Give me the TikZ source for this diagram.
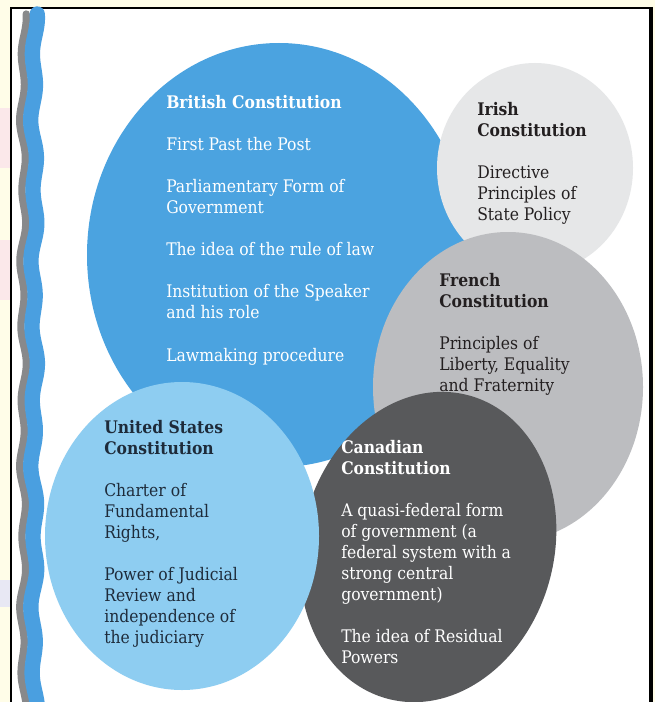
\documentclass[tikz,border=0pt]{standalone}
\usepackage{fontspec}
\setmainfont{DejaVu Serif Condensed}
\usetikzlibrary{shapes.geometric}

\definecolor{pageyellow}{HTML}{FFFDE8}
\definecolor{marginpink}{HTML}{FBE8EA}
\definecolor{marginlilac}{HTML}{E8E8F4}
\definecolor{britblue}{HTML}{4BA3E0}
\definecolor{usblue}{HTML}{8ECDF1}
\definecolor{irishgray}{HTML}{E6E7E8}
\definecolor{frenchgray}{HTML}{BCBDC0}
\definecolor{canadagray}{HTML}{58595B}
\definecolor{stripegray}{HTML}{88898B}
\definecolor{stripeblue}{HTML}{4A9FE0}
\definecolor{inkdark}{HTML}{231F20}
\definecolor{inknavy}{HTML}{1E2B3A}

\newcommand\factlist[1]{\begin{tabular}[t]{@{}l@{}}#1\end{tabular}}

\tikzset{
  bubble/.style={ellipse, inner sep=0pt, draw=none},
  facts/.style={anchor=base west, inner sep=0pt,
    font=\fontsize{13}{15.75}\selectfont},
}

\begin{document}
\begin{tikzpicture}[x=0.75pt, y=-0.75pt]
  \useasboundingbox (0,0) rectangle (655,702);
  \clip (0,0) rectangle (655,702);
  % page and framed panel
  \fill[pageyellow] (0,0) rectangle (655,702);
  \fill[marginpink] (0,108) rectangle (10,168);
  \fill[marginpink] (0,240) rectangle (10,300);
  \fill[marginlilac] (0,580) rectangle (10,607);
  \fill[white] (11,8) rectangle (651,702);
  \draw[black, line width=1.4pt] (11,710) -- (11,8) -- (651,8);
  \draw[black, line width=2.6pt] (651,7) -- (651,710);

  % wavy edge stripes
  \draw[stripegray, line width=5.5pt, line cap=round]
    plot[domain=14:712, samples=260, smooth]
    ({23+2.2*sin(5.2*\x)+1.2*sin(2.1*\x+40)}, \x);
  \draw[stripeblue, line width=11.5pt, line cap=round]
    plot[domain=14:712, samples=260, smooth]
    ({34+2.2*sin(5.2*\x)+1.2*sin(2.1*\x+40)}, \x);

  % the five overlapping bubbles, back to front
  \node[bubble, fill=britblue, minimum width=288pt, minimum height=318pt]
    (brit) at (279,255) {};
  \node[bubble, fill=irishgray, minimum width=147pt, minimum height=157.5pt]
    (irish) at (535,168) {};
  \node[bubble, fill=frenchgray, minimum width=202.5pt, minimum height=232.5pt]
    (french) at (508,387) {};
  \node[bubble, fill=canadagray, minimum width=189pt, minimum height=235.5pt,
    rotate=-15] (canada) at (428,547) {};
  \node[bubble, fill=usblue, minimum width=205.5pt, minimum height=231pt]
    (usa) at (182,536) {};

  % texts
  \node[facts, text=white] (brit-text) at (166,109) {\factlist{%
    \textbf{British Constitution}\\ \\
    First Past the Post\\ \\
    Parliamentary Form of\\
    Government\\ \\
    The idea of the rule of law\\ \\
    Institution of the Speaker\\
    and his role\\ \\
    Lawmaking procedure}};
  \node[facts, text=inkdark] (irish-text) at (477,116) {\factlist{%
    \textbf{Irish}\\
    \textbf{Constitution}\\ \\
    Directive\\
    Principles of\\
    State Policy}};
  \node[facts, text=inkdark] (french-text) at (439,286) {\factlist{%
    \textbf{French}\\
    \textbf{Constitution}\\ \\
    Principles of\\
    Liberty, Equality\\
    and Fraternity}};
  \node[facts, text=white] (canada-text) at (341,453) {\factlist{%
    \textbf{Canadian}\\
    \textbf{Constitution}\\ \\
    A quasi-federal form\\
    of government (a\\
    federal system with a\\
    strong central\\
    government)\\ \\
    The idea of Residual\\
    Powers}};
  \node[facts, text=inknavy] (usa-text) at (104,433) {\factlist{%
    \textbf{United States}\\
    \textbf{Constitution}\\ \\
    Charter of\\
    Fundamental\\
    Rights,\\ \\
    Power of Judicial\\
    Review and\\
    independence of\\
    the judiciary}};
\end{tikzpicture}
\end{document}
